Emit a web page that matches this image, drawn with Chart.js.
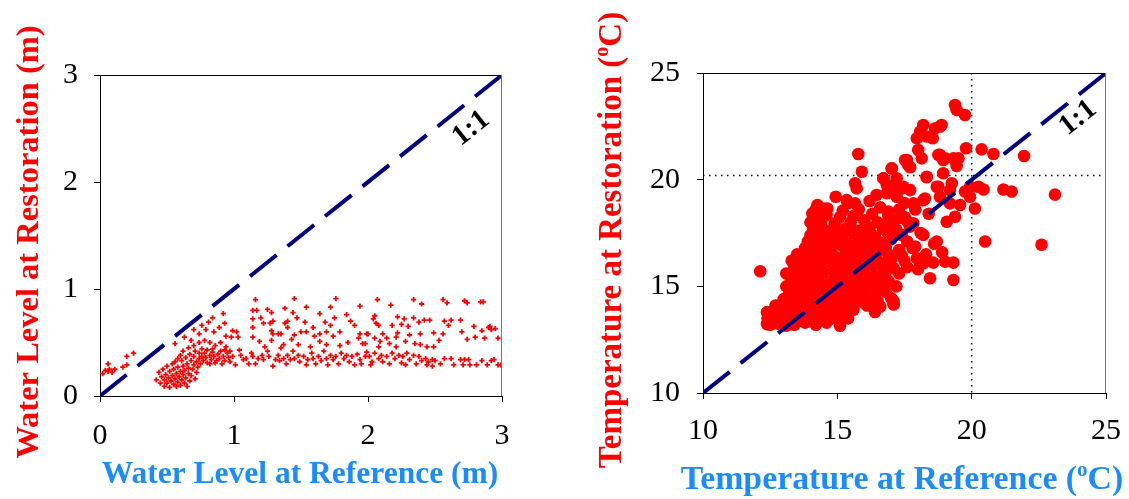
<!DOCTYPE html>
<html>
<head>
<meta charset="utf-8">
<script src="https://cdn.jsdelivr.net/npm/chart.js@4"></script>
<style>
    body { margin: 0; background: #fff; }
    #wrap { position: relative; width: 1129px; height: 499px; }
    canvas { position: absolute; top: 0; }
</style>
</head>
<body>
<div id="wrap">
    <canvas id="chart-water" width="565" height="499" style="left:0"></canvas>
    <canvas id="chart-temp" width="564" height="499" style="left:565px"></canvas>
</div>
<script>
// Pegel: Referenz (x) vs Restaurierung (y), in m
const waterPoints = [
    [0.02,0.21],[0.04,0.24],[0.06,0.23],[0.07,0.25],[0.09,0.22],[0.11,0.25],[0.06,0.30],[0.17,0.27],[0.20,0.29],[0.20,0.37],[0.25,0.40],
    [0.56,0.49],[0.63,0.55],[0.70,0.62],[0.76,0.66],[0.81,0.69],[0.84,0.73],[0.92,0.77],[0.89,0.64],[0.68,0.52],[0.74,0.58],[0.79,0.62],
    [0.85,0.60],[0.94,0.56],[0.93,0.68],
    [0.42,0.15],[0.44,0.22],[0.45,0.12],[0.46,0.18],[0.47,0.25],[0.48,0.09],[0.48,0.15],[0.49,0.20],[0.50,0.28],[0.50,0.12],
    [0.51,0.17],[0.52,0.23],[0.52,0.08],[0.53,0.14],[0.54,0.19],[0.54,0.30],[0.55,0.11],[0.55,0.25],[0.56,0.16],[0.57,0.21],
    [0.57,0.09],[0.58,0.13],[0.58,0.27],[0.59,0.18],[0.60,0.23],[0.60,0.10],[0.61,0.33],[0.61,0.15],[0.62,0.20],[0.62,0.28],
    [0.63,0.12],[0.63,0.24],[0.64,0.17],[0.64,0.36],[0.65,0.30],[0.65,0.09],[0.66,0.21],[0.66,0.26],[0.67,0.14],[0.67,0.39],
    [0.68,0.33],[0.68,0.19],[0.69,0.25],[0.70,0.29],[0.70,0.37],[0.71,0.16],[0.71,0.42],[0.72,0.22],[0.72,0.32],[0.73,0.27],
    [0.74,0.35],[0.74,0.40],[0.75,0.30],[0.76,0.44],[0.76,0.37],[0.77,0.33],[0.78,0.40],[0.79,0.36],[0.80,0.31],[0.80,0.43],
    [0.82,0.38],[0.83,0.34],[0.84,0.41],[0.85,0.37],[0.86,0.31],[0.88,0.39],[0.89,0.35],[0.90,0.42],[0.92,0.37],[0.93,0.33],
    [0.95,0.40],[0.96,0.36],[0.60,0.38],[0.62,0.42],[0.58,0.35],[0.56,0.32],[0.66,0.45],[0.70,0.47],[0.74,0.50],[0.78,0.52],
    [0.82,0.50],[0.86,0.47],[0.90,0.50],[0.94,0.46],[0.82,0.30],[0.84,0.44],[0.87,0.33],[0.91,0.30],[0.93,0.43],[0.97,0.32],
    [1.16,0.90],[1.45,0.91],[1.76,0.91],[1.94,0.84],[1.72,0.83],[1.54,0.83],[1.38,0.82],[1.14,0.80],[1.17,0.80],[1.25,0.81],
    [1.28,0.78],[1.44,0.78],[1.64,0.77],[1.84,0.76],[1.14,0.72],[1.20,0.73],[1.47,0.73],[1.75,0.73],[1.22,0.68],[1.27,0.68],
    [1.29,0.70],[1.38,0.68],[1.40,0.70],[1.53,0.69],[1.68,0.69],[1.72,0.66],[1.87,0.70],[1.90,0.66],[1.14,0.64],[1.40,0.64],
    [1.59,0.64],[0.99,0.61],[1.02,0.60],[1.28,0.61],[1.50,0.60],[1.54,0.60],[1.64,0.58],[1.69,0.60],[1.79,0.60],[1.94,0.58],
    [1.99,0.58],[0.98,0.55],[1.03,0.55],[1.14,0.55],[1.29,0.58],[1.33,0.58],[1.35,0.58],[1.45,0.57],[1.60,0.56],[1.74,0.56],
    [1.19,0.51],[1.28,0.52],[1.43,0.53],[1.64,0.51],[1.93,0.54],[1.85,0.50],[1.96,0.49],[1.37,0.48],[1.48,0.48],[1.69,0.48],
    [1.57,0.46],[1.79,0.47],[1.23,0.46],[1.35,0.45],
    [0.97,0.42],[0.99,0.37],[1.01,0.29],[1.04,0.43],[1.05,0.38],[1.07,0.34],[1.09,0.35],[1.11,0.30],[1.13,0.40],[1.14,0.37],
    [1.16,0.30],[1.18,0.35],[1.21,0.38],[1.22,0.34],[1.25,0.42],[1.26,0.37],[1.29,0.28],[1.31,0.34],[1.33,0.38],[1.34,0.33],
    [1.37,0.35],[1.39,0.30],[1.40,0.38],[1.42,0.34],[1.44,0.42],[1.45,0.35],[1.48,0.38],[1.49,0.32],[1.52,0.37],[1.54,0.29],
    [1.55,0.34],[1.58,0.40],[1.59,0.35],[1.61,0.30],[1.63,0.37],[1.65,0.33],[1.67,0.42],[1.69,0.35],[1.70,0.29],[1.72,0.38],
    [1.74,0.34],[1.76,0.37],[1.78,0.30],[1.80,0.40],[1.82,0.35],[1.84,0.38],[1.86,0.32],[1.88,0.37],[1.90,0.29],[1.92,0.39],
    [1.94,0.34],[1.95,0.30],[1.98,0.37],
    [2.07,0.90],[2.17,0.85],[2.34,0.90],[2.40,0.86],[2.56,0.90],[2.59,0.87],[2.72,0.89],[2.74,0.87],[2.84,0.88],[2.86,0.88],
    [2.05,0.75],[2.04,0.72],[2.06,0.68],[2.08,0.66],[2.22,0.74],[2.27,0.72],[2.25,0.67],[2.34,0.73],[2.38,0.69],[2.42,0.71],
    [2.46,0.71],[2.57,0.70],[2.62,0.71],[2.69,0.71],[2.60,0.66],[2.79,0.65],[2.90,0.64],[2.92,0.62],[2.70,0.60],[2.85,0.61],
    [2.18,0.66],[2.00,0.58],[2.11,0.58],[2.22,0.59],[2.30,0.65],[2.39,0.58],[2.49,0.59],[2.56,0.58],[2.05,0.54],[2.14,0.54],
    [2.21,0.55],[2.31,0.57],[2.74,0.53],[2.80,0.55],[2.87,0.54],[2.97,0.54],[2.53,0.52],[2.09,0.51],[2.28,0.51],[2.16,0.49],
    [2.35,0.49],[2.39,0.48],[2.44,0.46],[2.49,0.46],[1.98,0.49],[2.08,0.46],[2.21,0.46],[2.95,0.63],[2.91,0.65],
    [1.99,0.41],[2.01,0.37],[2.03,0.32],[2.05,0.40],[2.08,0.35],[2.10,0.38],[2.11,0.32],[2.14,0.37],[2.16,0.30],[2.18,0.40],
    [2.20,0.35],[2.23,0.38],[2.25,0.31],[2.26,0.37],[2.29,0.40],[2.31,0.34],[2.34,0.38],[2.36,0.30],[2.38,0.37],[2.40,0.33],
    [2.43,0.35],[2.45,0.32],[2.48,0.34],[2.50,0.33],[2.54,0.30],[2.57,0.35],[2.62,0.35],[2.64,0.29],[2.69,0.34],[2.72,0.34],
    [2.75,0.34],[2.71,0.29],[2.76,0.29],[2.81,0.29],[2.85,0.33],[2.89,0.29],[2.92,0.33],[2.94,0.34],[2.97,0.29],[2.48,0.28],
    [2.44,0.29],[2.28,0.29],[2.02,0.29],[2.99,0.29]
];

// Temperatur: Referenz (x) vs Restaurierung (y), in °C
const tempPoints = [
    [19.38,23.50],[19.44,23.27],[19.75,23.03],[18.20,22.56],[18.88,22.56],[18.64,22.41],[18.08,22.25],[18.33,22.02],[17.96,21.94],
    [18.55,21.94],[15.78,21.20],[18.01,21.39],[18.14,21.00],[18.82,21.16],[18.94,20.92],[19.32,21.00],[19.51,21.00],[19.79,21.47],
    [20.37,21.42],[20.81,21.20],[21.95,21.11],[17.59,20.92],[17.71,20.58],[15.91,20.37],[17.03,20.53],[16.72,20.06],[17.21,20.06],
    [18.33,20.14],[18.94,20.30],[19.44,20.64],[15.66,19.83],[15.72,19.59],[16.84,19.75],[17.46,19.67],[17.71,19.51],[18.76,19.67],
    [19.26,19.83],[19.94,19.67],[20.25,19.67],[20.44,19.54],[21.18,19.54],[21.49,19.44],[14.94,19.20],[15.35,19.04],[15.66,18.89],
    [16.46,19.28],[16.84,19.36],[17.21,19.20],[18.26,19.12],[18.82,19.20],[19.19,18.89],[19.57,18.81],[19.94,19.20],[20.12,18.65],
    [14.26,18.81],[14.63,18.65],[14.32,18.34],[14.07,18.42],[17.83,18.89],[19.07,18.03],[19.38,18.26],[20.50,17.10],[22.60,16.95],
    [23.10,19.30],[19.01,16.16],[19.32,16.11],[19.32,15.30],[18.45,15.38],[18.57,16.11],[18.20,16.08],[17.96,16.31],[17.90,16.86],
    [18.70,17.10],[18.20,17.41],[17.83,17.96],[12.13,15.71],[12.38,13.78],[12.38,13.23],[12.50,13.54],[15.10,13.31],[16.40,14.04],
    [17.09,14.17],[17.09,14.32],[16.09,15.14],[16.46,14.82],[17.02,20.53],[17.64,20.68],[17.52,20.92],[18.32,20.11],[18.76,21.16],
    [18.82,22.49],[19.01,21.00],[16.71,20.06],[17.08,19.67],[17.40,19.59],[18.20,19.04],[18.70,19.67],[19.19,19.51],[19.75,19.44],
    [16.90,18.50],[17.30,18.20],[17.70,17.80],[18.10,17.50],[17.50,18.90],[16.20,19.00],[15.40,18.90],[16.70,17.90],[18.40,18.40],
    [17.90,18.60],[18.60,17.00],[18.90,16.60],[18.30,16.50],[17.80,16.80],[18.00,15.80],[17.60,15.90],
    [12.50,13.20],[12.80,13.25],[13.10,13.15],[13.40,13.20],[13.80,13.30],[14.20,13.20],[14.60,13.30],[15.10,13.15],
    [12.40,13.50],[12.70,13.45],[13.00,13.55],[13.30,13.50],[13.60,13.40],[13.90,13.55],[14.30,13.50],[14.70,13.45],[15.00,13.60],[15.40,13.50],
    [12.40,13.80],[12.80,13.85],[13.20,13.75],[13.50,13.80],[13.80,13.90],[14.10,13.80],[14.40,13.75],[14.80,13.85],[15.20,13.80],[15.60,13.90],[16.40,13.80],
    [12.70,14.10],[13.10,14.05],[13.50,14.15],[13.90,14.10],[14.20,14.00],[14.50,14.15],[14.90,14.10],[15.30,14.05],[15.70,14.20],[16.10,14.10],[16.60,14.05],[17.10,14.15],
    [13.00,14.40],[13.40,14.35],[13.70,14.45],[14.00,14.40],[14.40,14.30],[14.70,14.45],[15.00,14.40],[15.40,14.35],[15.80,14.50],[16.20,14.40],[16.50,14.30],[17.00,14.45],
    [13.20,14.70],[13.60,14.75],[13.90,14.65],[14.20,14.70],[14.60,14.80],[14.90,14.70],[15.20,14.65],[15.60,14.75],[16.00,14.70],[16.40,14.60],[16.80,14.75],
    [13.10,15.00],[13.50,15.05],[13.80,14.95],[14.10,15.00],[14.40,15.10],[14.80,15.00],[15.10,14.95],[15.50,15.05],[15.90,15.00],[16.30,15.10],[16.70,14.95],[17.20,15.00],
    [13.30,15.30],[13.70,15.25],[14.00,15.35],[14.30,15.30],[14.70,15.20],[15.00,15.35],[15.40,15.30],[15.70,15.25],[16.10,15.40],[16.50,15.30],[16.90,15.25],
    [13.10,15.60],[13.50,15.65],[13.90,15.55],[14.20,15.60],[14.50,15.70],[14.90,15.60],[15.20,15.55],[15.60,15.65],[16.00,15.60],[16.40,15.50],[16.80,15.65],[17.30,15.60],
    [13.40,15.90],[13.80,15.85],[14.10,15.95],[14.40,15.90],[14.80,15.80],[15.10,15.95],[15.50,15.90],[15.90,15.85],[16.30,16.00],[16.70,15.90],[17.10,15.85],
    [13.30,16.20],[13.70,16.25],[14.00,16.15],[14.30,16.20],[14.70,16.30],[15.00,16.20],[15.40,16.15],[15.80,16.25],[16.20,16.20],[16.60,16.10],[17.00,16.25],[17.50,16.20],
    [13.50,16.50],[13.90,16.45],[14.20,16.55],[14.60,16.50],[14.90,16.40],[15.30,16.55],[15.70,16.50],[16.10,16.45],[16.50,16.60],[16.90,16.50],[17.40,16.45],
    [13.80,16.80],[14.10,16.85],[14.40,16.75],[14.80,16.80],[15.20,16.90],[15.60,16.80],[16.00,16.75],[16.40,16.85],[16.80,16.80],[17.30,16.70],
    [13.90,17.10],[14.30,17.05],[14.60,17.15],[15.00,17.10],[15.40,17.00],[15.80,17.15],[16.20,17.10],[16.60,17.05],[17.00,17.20],[17.60,17.10],
    [14.00,17.40],[14.40,17.45],[14.80,17.35],[15.20,17.40],[15.60,17.50],[16.00,17.40],[16.40,17.35],[16.90,17.45],[17.40,17.40],
    [14.10,17.70],[14.50,17.65],[14.90,17.75],[15.30,17.70],[15.80,17.60],[16.20,17.75],[16.70,17.70],[17.20,17.65],
    [14.00,18.00],[14.40,18.05],[14.90,17.95],[15.50,18.00],[16.00,18.10],[16.50,18.00],[17.00,17.95],[17.60,18.05],
    [14.10,18.30],[14.60,18.35],[15.10,18.25],[15.60,18.30],[16.30,18.40],[16.90,18.30],[17.50,18.25],
    [14.20,18.60],[14.50,18.65],[15.20,18.55],[15.80,18.60],[16.60,18.70],[17.30,18.60]
];

// Achsen (min, max, Schritt) und 1:1-Linie
const waterAxis = [0, 3, 1];
const tempAxis = [10, 25, 5];
const waterLabelAt = [2.77, 2.50];   // Lage der Beschriftung "1:1"
const tempLabelAt = [23.96, 22.89];
const tempRefX = [20];               // gepunktete Hilfslinien
const tempRefY = [20.2];

const SERIF = "'Liberation Serif', 'Times New Roman', serif";
const COLORS = {
    red: '#ff0000',
    blue: '#1a8cff',
    navy: '#000080',
    black: '#000000'
};

/**
 * Text mit hochgestelltem Teil zeichnen (zentriert)
 */
function drawRich(ctx, parts, cx, baseY, size) {
    const fontFor = p => `bold ${p.sup ? Math.round(size * 0.62) : size}px ${SERIF}`;
    let total = 0;
    parts.forEach(p => { ctx.font = fontFor(p); total += ctx.measureText(p.t).width; });
    let x = cx - total / 2;
    ctx.textAlign = 'left';
    ctx.textBaseline = 'alphabetic';
    parts.forEach(p => {
        ctx.font = fontFor(p);
        ctx.fillText(p.t, x, p.sup ? baseY - size * 0.38 : baseY);
        x += ctx.measureText(p.t).width;
    });
}

/**
 * Plugin: Achsentitel, Rahmen, 1:1-Text, Hilfslinien
 */
function decoPlugin(cfg) {
    return {
        id: 'deco',
        beforeDatasetsDraw(chart) {
            const ctx = chart.ctx;
            const a = chart.chartArea;
            const sx = chart.scales.x, sy = chart.scales.y;
            ctx.save();
            ctx.strokeStyle = COLORS.black;
            ctx.lineWidth = 1.5;
            ctx.setLineDash([1.5, 4.5]);
            (cfg.refX || []).forEach(v => {
                const px = sx.getPixelForValue(v);
                ctx.beginPath(); ctx.moveTo(px, a.top); ctx.lineTo(px, a.bottom); ctx.stroke();
            });
            (cfg.refY || []).forEach(v => {
                const py = sy.getPixelForValue(v);
                ctx.beginPath(); ctx.moveTo(a.left, py); ctx.lineTo(a.right, py); ctx.stroke();
            });
            ctx.restore();
        },
        afterDraw(chart) {
            const ctx = chart.ctx;
            const a = chart.chartArea;
            const sx = chart.scales.x, sy = chart.scales.y;
            ctx.save();
            // Rahmen oben / rechts
            ctx.lineWidth = 1;
            ctx.strokeStyle = COLORS.black;
            ctx.beginPath(); ctx.moveTo(a.left, a.top + 0.5); ctx.lineTo(a.right, a.top + 0.5); ctx.stroke();
            ctx.strokeStyle = '#777';
            ctx.beginPath(); ctx.moveTo(a.right - 0.5, a.top); ctx.lineTo(a.right - 0.5, a.bottom); ctx.stroke();

            // 1:1
            const ang = Math.atan2(a.bottom - a.top, a.right - a.left);
            ctx.translate(sx.getPixelForValue(cfg.labelAt[0]), sy.getPixelForValue(cfg.labelAt[1]));
            ctx.rotate(-ang);
            ctx.fillStyle = COLORS.black;
            ctx.font = `bold 29px ${SERIF}`;
            ctx.textAlign = 'center';
            ctx.textBaseline = 'middle';
            ctx.fillText('1:1', 0, 0);
            ctx.restore();

            // x-Titel
            ctx.save();
            ctx.fillStyle = COLORS.blue;
            drawRich(ctx, cfg.xTitle, cfg.xTitlePos[0], cfg.xTitlePos[1], cfg.xTitleSize);
            ctx.restore();

            // y-Titel
            ctx.save();
            ctx.fillStyle = COLORS.red;
            ctx.translate(cfg.yTitlePos[0], cfg.yTitlePos[1]);
            ctx.rotate(-Math.PI / 2);
            drawRich(ctx, cfg.yTitle, 0, 0, cfg.yTitleSize);
            ctx.restore();
        }
    };
}

function axisOptions(range, size, tickPad) {
    return {
        type: 'linear',
        min: range[0],
        max: range[1],
        ticks: {
            stepSize: range[2],
            color: COLORS.black,
            padding: tickPad,
            maxRotation: 0,
            autoSkip: false,
            font: { family: SERIF, size: 30 }
        },
        grid: { drawOnChartArea: false, drawTicks: true, tickLength: 6, color: COLORS.black },
        border: { color: COLORS.black, width: 1 },
        afterFit: (scale) => {
            // feste Achsenbreite, kein Zusatzrand für Randbeschriftungen
            if (scale.isHorizontal()) scale.height = size;
            else scale.width = size;
            scale.paddingLeft = 0;
            scale.paddingRight = 0;
            scale.paddingTop = 0;
            scale.paddingBottom = 0;
        }
    };
}

function makeChart(id, o) {
    return new Chart(document.getElementById(id), {
        type: 'scatter',
        data: {
            datasets: [{
                type: 'line',
                data: [{ x: o.range[0], y: o.range[0] }, { x: o.range[1], y: o.range[1] }],
                borderColor: COLORS.navy,
                borderWidth: 4,
                borderDash: [34, 14],
                pointRadius: 0,
                order: 0
            }, {
                data: o.points.map(p => ({ x: p[0], y: p[1] })),
                pointStyle: o.pointStyle,
                pointRadius: o.pointRadius,
                backgroundColor: COLORS.red,
                borderColor: COLORS.red,
                borderWidth: o.pointBorder,
                order: 1
            }]
        },
        options: {
            responsive: false,
            animation: false,
            layout: { padding: o.padding },
            plugins: { legend: { display: false }, tooltip: { enabled: false } },
            scales: {
                x: axisOptions(o.range, o.xHeight, o.xTickPad),
                y: axisOptions(o.range, o.yWidth, o.yTickPad)
            }
        },
        plugins: [decoPlugin(o.deco)]
    });
}

makeChart('chart-water', {
    range: waterAxis,
    points: waterPoints,
    pointStyle: 'cross',
    pointRadius: 2.6,
    pointBorder: 1.8,
    padding: { left: 0, top: 75, right: 63, bottom: 0 },
    xHeight: 103, yWidth: 100, xTickPad: 16, yTickPad: 16,
    deco: {
        labelAt: waterLabelAt,
        xTitleSize: 31.5,
        yTitleSize: 32.5,
        xTitle: [{ t: 'Water Level at Reference (m)' }],
        xTitlePos: [300, 483],
        yTitle: [{ t: 'Water Level at Restoration (m)' }],
        yTitlePos: [38, 242]
    }
});

makeChart('chart-temp', {
    range: tempAxis,
    points: tempPoints,
    pointStyle: 'circle',
    pointRadius: 6.3,
    pointBorder: 0,
    padding: { left: 0, top: 73, right: 23, bottom: 0 },
    xHeight: 106, yWidth: 138, xTickPad: 14, yTickPad: 17,
    deco: {
        labelAt: tempLabelAt,
        refX: tempRefX,
        refY: tempRefY,
        xTitleSize: 33.8,
        yTitleSize: 33,
        xTitle: [{ t: 'Temperature at Reference (' }, { t: 'o', sup: true }, { t: 'C)' }],
        xTitlePos: [337, 489],
        yTitle: [{ t: 'Temperature at Restoration (' }, { t: 'o', sup: true }, { t: 'C)' }],
        yTitlePos: [56, 240]
    }
});
</script>
</body>
</html>
